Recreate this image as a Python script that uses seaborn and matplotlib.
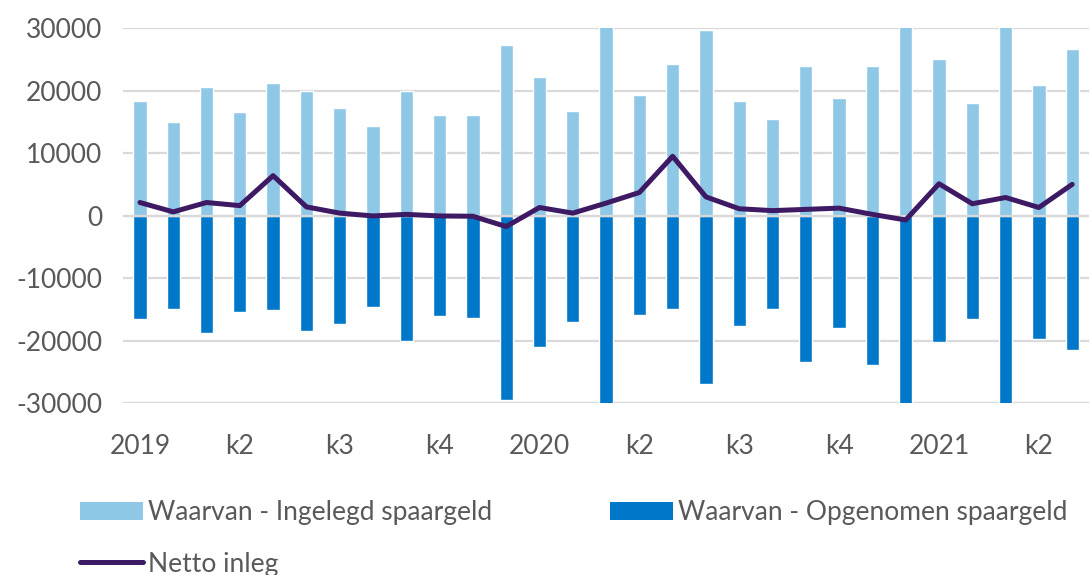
import matplotlib
matplotlib.use("Agg")
import matplotlib.pyplot as plt
import seaborn as sns
import pandas as pd
import numpy as np
from matplotlib.patches import Patch
from matplotlib.lines import Line2D

# ---- data (monthly, Jan 2019 - May 2021) ----
months = list(range(29))
tick_labels = ["2019", "k2", "k3", "k4", "2020", "k2", "k3", "k4", "2021", "k2"]
ingelegd = [18400, 15050, 20600, 16600, 21200, 19900, 17300, 14300, 19900, 16100,
            16100, 27300, 22200, 16800, 30500, 19300, 24200, 29700, 18400, 15500,
            24000, 18900, 24000, 30500, 25000, 18100, 30500, 20900, 26600]
opgenomen = [-16500, -14900, -18800, -15400, -15100, -18500, -17400, -14600, -20000, -16100,
             -16400, -29500, -21100, -17000, -30500, -15900, -14900, -27000, -17700, -14900,
             -23400, -18000, -23900, -30500, -20300, -16500, -30200, -19800, -21500]
netto = [2100, 600, 2100, 1600, 6400, 1400, 400, -50, 200, -50,
         -100, -1750, 1300, 400, 2000, 3700, 9500, 3000, 1100, 800,
         1000, 1200, 200, -700, 5100, 1900, 2900, 1300, 5000]

c_in = "#8EC8E6"
c_out = "#0077C8"
c_net = "#3D1A63"
grey = "#595959"

sns.set_theme(style="white")
plt.rcParams["font.family"] = ["Lato", "DejaVu Sans"]
plt.rcParams["axes.unicode_minus"] = False

df = pd.DataFrame({"maand": months, "in": ingelegd, "uit": opgenomen, "netto": netto})

fig = plt.figure(figsize=(10.91, 5.75), dpi=100)
ax = fig.add_axes([0.113, 0.299, 0.885, 0.652])

sns.barplot(data=df, x="maand", y="in", color=c_in, width=0.4, ax=ax,
            saturation=1, zorder=2)
sns.barplot(data=df, x="maand", y="uit", color=c_out, width=0.4, ax=ax,
            saturation=1, zorder=2)
sns.lineplot(data=df, x="maand", y="netto", color=c_net, linewidth=3.6, ax=ax,
             zorder=4)

ax.set_ylim(-30000, 30000)
ax.set_xlim(-0.5, 28.5)
yt = list(range(-30000, 30001, 10000))
ax.set_yticks(yt)
ax.set_yticklabels([str(v) for v in yt])
ax.set_xticks(months[::3])
ax.set_xticklabels(tick_labels)
ax.yaxis.grid(True, color="#D9D9D9", linewidth=1.6, zorder=0)
ax.set_axisbelow(True)
ax.axhline(0, color="#D9D9D9", linewidth=1.6, zorder=3)
for s in ax.spines.values():
    s.set_visible(False)
ax.tick_params(axis="both", length=0, labelsize=19, colors=grey)
ax.tick_params(axis="x", pad=22)
ax.tick_params(axis="y", pad=15)
ax.set_xlabel("")
ax.set_ylabel("")

handles = [Patch(facecolor=c_in, edgecolor="none"),
           Line2D([0], [0], color=c_net, linewidth=3.6),
           Patch(facecolor=c_out, edgecolor="none")]
labels = ["Waarvan - Ingelegd spaargeld", "Netto inleg", "Waarvan - Opgenomen spaargeld"]
leg = fig.legend(handles, labels, loc="upper left", bbox_to_anchor=(0.073, 0.13),
                 ncol=2, frameon=False, fontsize=19, handlelength=2.4,
                 handleheight=0.7, handletextpad=0.2, columnspacing=4.45,
                 labelspacing=1.0, borderpad=0, borderaxespad=0)
for t in leg.get_texts():
    t.set_color(grey)

fig.savefig("out.png", dpi=100)
